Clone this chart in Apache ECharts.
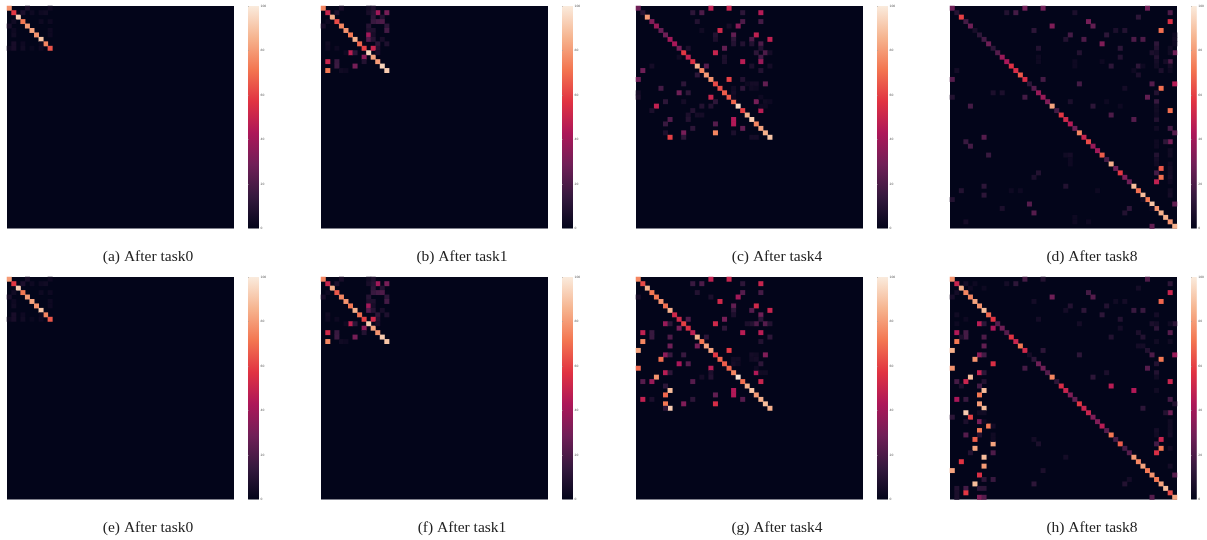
<!DOCTYPE html>
<html><head><meta charset="utf-8">
<style>html,body{margin:0;padding:0;background:#fff}#c{width:1207px;height:540px}</style>
<script src="https://cdn.jsdelivr.net/npm/echarts@6/dist/echarts.min.js"></script>
</head><body><div id="c"></div>
<script>
const captions=['(a) After task0','(b) After task1','(c) After task4','(d) After task8','(e) After task0','(f) After task1','(g) After task4','(h) After task8'];
const colorTicks=[0,20,40,60,80,100];
const diagA=[78,58,92,72,80,82,78,90,75,64];
const offA=[[4,0,6],[9,0,3],[3,1,7],[5,1,3],[7,1,3],[8,1,4],[1,3,4],[7,3,3],[9,3,3],[0,4,6],[1,5,3],[9,5,3],[1,6,4],[9,6,3],[1,8,6],[3,8,3],[7,8,2],[0,9,3],[1,9,6],[3,9,4],[5,9,2],[7,9,3]];
const diagE=[80,58,92,72,80,82,78,90,75,65];
const offE=[[4,0,6],[9,0,3],[3,1,7],[5,1,3],[7,1,3],[8,1,4],[1,3,4],[7,3,3],[9,3,3],[0,4,6],[1,5,3],[9,5,3],[1,6,4],[9,6,3],[1,8,6],[3,8,3],[7,8,2],[0,9,3],[1,9,6],[3,9,4],[5,9,2],[7,9,3]];
const diagB=[75,50,85,62,75,78,72,85,68,60,94,82,80,94,92];
const offB=[[12,1,40],[14,1,30],[11,2,12],[13,2,9],[12,3,18],[13,3,20],[11,3,15],[14,4,12],[14,5,18],[10,4,10],[10,5,8],[10,6,40],[10,7,22],[11,5,8],[11,6,6],[11,7,10],[12,8,12],[12,9,8],[13,7,6],[14,8,8],[11,9,50],[6,10,47],[7,10,12],[9,11,35],[1,12,50],[3,12,15],[3,13,16],[7,13,30],[9,12,9],[1,14,72],[4,14,4],[5,14,3],[0,4,6],[1,3,3],[3,1,7],[4,0,6],[11,0,8],[10,0,4],[11,1,10],[10,1,6],[1,8,4],[1,9,3],[3,9,3],[5,10,3],[12,10,6]];
const diagF=[75,50,85,65,75,78,72,85,70,60,92,82,78,92,90];
const offF=[[12,1,40],[14,1,30],[11,2,12],[13,2,9],[12,3,18],[13,3,20],[11,3,15],[14,4,12],[14,5,18],[10,4,10],[10,5,8],[10,6,40],[10,7,22],[11,5,8],[11,6,6],[11,7,10],[12,8,12],[12,9,8],[13,7,6],[14,8,8],[11,9,52],[6,10,48],[7,10,12],[9,11,35],[1,12,52],[3,12,15],[3,13,16],[7,13,30],[9,12,9],[1,14,75],[4,14,4],[5,14,3],[0,4,6],[1,3,3],[3,1,7],[4,0,6],[11,0,8],[10,0,4],[11,1,10],[10,1,6],[1,8,4],[1,9,3],[3,9,3],[5,10,3],[12,10,6]];
const diagC=[28,10,80,32,38,26,28,40,42,30,58,48,55,85,75,80,78,62,63,66,65,68,95,60,85,92,75,82,85,90];
const offC=[[16,0,47],[20,0,50],[12,1,12],[14,1,20],[27,1,45],[23,1,12],[13,3,9],[23,3,20],[27,3,18],[22,4,35],[20,4,5],[18,5,52],[14,5,4],[21,6,25],[21,7,12],[26,6,48],[25,7,20],[29,7,48],[21,8,9],[23,8,9],[27,8,20],[25,8,9],[27,9,9],[19,9,25],[11,9,7],[17,7,7],[17,6,9],[17,10,50],[28,10,20],[26,10,12],[29,10,5],[27,11,18],[19,11,7],[23,12,46],[27,12,38],[19,12,7],[9,11,4],[25,13,7],[29,13,5],[15,13,22],[3,13,5],[1,14,28],[27,14,9],[13,15,12],[0,16,28],[20,16,60],[23,16,9],[10,17,12],[28,17,25],[25,17,5],[26,17,5],[5,18,18],[23,18,12],[9,19,28],[11,19,12],[0,19,5],[0,20,7],[16,20,50],[17,21,12],[26,21,30],[6,21,12],[10,21,5],[4,22,48],[14,22,9],[16,22,9],[3,23,7],[27,23,46],[12,23,9],[11,24,7],[13,24,5],[14,24,5],[11,25,9],[7,25,22],[6,26,15],[17,26,22],[21,25,44],[21,26,44],[23,27,25],[12,27,12],[6,28,7],[10,28,30],[17,28,75],[21,28,7],[7,29,60],[10,29,12],[25,29,5],[26,29,5],[24,17,3],[25,18,4],[26,18,3],[21,18,4],[21,19,5],[21,20,3],[27,20,3],[28,21,4],[29,21,3],[28,22,3],[27,22,3]];
const diagG=[75,62,85,72,72,78,70,85,52,52,60,55,47,85,72,82,82,58,68,66,68,75,98,70,85,90,80,85,88,85];
const offG=[[16,0,48],[20,0,50],[12,1,15],[14,1,20],[27,1,50],[23,1,12],[13,3,9],[23,3,22],[27,3,18],[0,4,6],[22,4,40],[16,4,7],[18,5,52],[21,6,25],[21,7,12],[26,6,52],[25,7,22],[29,7,50],[27,8,28],[27,9,12],[19,9,30],[11,9,20],[21,8,7],[6,10,38],[7,10,12],[17,10,52],[26,10,20],[28,10,22],[29,10,9],[25,10,9],[24,10,7],[9,11,30],[19,11,12],[1,12,48],[3,12,15],[3,13,15],[7,13,20],[23,12,46],[27,12,46],[29,13,12],[15,13,12],[27,14,9],[1,14,75],[7,15,28],[13,15,30],[0,16,82],[20,16,58],[6,17,35],[7,17,15],[10,17,15],[28,17,32],[5,18,70],[9,19,42],[11,19,22],[27,19,12],[0,20,68],[16,20,46],[6,21,46],[7,21,12],[16,21,7],[26,21,44],[4,22,78],[14,22,5],[16,22,9],[1,23,22],[3,23,38],[12,23,22],[27,23,50],[6,24,12],[7,25,88],[21,25,44],[21,26,44],[6,26,68],[17,26,25],[1,27,48],[3,27,7],[12,27,12],[23,27,22],[6,28,72],[10,28,32],[17,28,54],[7,29,92],[6,29,12],[25,17,5],[26,17,4],[21,18,4],[22,18,4],[25,18,4],[26,18,5],[21,19,5],[22,19,3],[26,20,3],[27,21,4],[28,21,4]];
const diagD=[28,10,60,18,28,6,12,18,28,12,22,38,42,56,54,65,54,12,22,38,38,32,82,18,58,52,45,28,75,50,62,38,40,66,18,85,28,58,32,28,88,70,88,72,90,78,85,85,78,85];
const offD=[[16,0,28],[20,0,28],[43,0,28],[12,1,9],[14,1,18],[27,1,7],[48,1,20],[41,2,12],[30,3,30],[48,3,55],[22,4,32],[31,4,25],[46,5,70],[18,5,12],[36,5,7],[38,5,9],[26,6,18],[34,6,12],[25,7,9],[29,7,20],[40,7,20],[42,7,20],[33,8,32],[45,8,12],[19,9,9],[37,9,12],[45,9,9],[28,10,9],[44,10,7],[49,10,28],[37,11,9],[45,11,9],[48,12,20],[35,13,12],[41,13,12],[46,14,7],[1,14,5],[41,15,7],[0,16,22],[20,16,18],[28,17,18],[44,17,22],[49,17,45],[46,18,70],[38,18,5],[9,19,7],[11,19,7],[45,19,9],[0,20,9],[16,20,18],[43,20,25],[45,21,15],[26,21,7],[4,22,18],[31,22,12],[48,23,70],[35,24,20],[40,25,22],[45,25,9],[48,27,18],[49,28,22],[7,29,22],[3,30,15],[48,30,30],[47,30,12],[4,31,18],[8,33,15],[45,33,9],[46,36,65],[45,37,18],[46,38,70],[18,38,7],[19,37,9],[45,39,48],[25,40,9],[7,40,12],[2,41,9],[7,42,12],[0,43,9],[49,44,25],[17,44,22],[11,45,7],[18,46,22],[39,45,12],[38,46,9],[3,48,5],[44,49,25],[45,10,5],[45,12,5],[45,13,4],[48,9,4],[48,10,4],[48,13,5],[48,14,3],[45,22,4],[45,23,4],[45,24,3],[45,27,4],[45,30,3],[45,31,3],[45,34,5],[45,35,4],[48,32,4],[48,33,4],[48,35,3],[48,36,4],[48,37,4],[48,38,5],[48,39,3],[48,41,4],[48,42,5],[49,6,3],[49,7,4],[49,8,3],[47,12,5],[33,12,3],[19,11,3],[19,12,3],[27,12,3],[27,13,3],[42,13,3],[40,14,3],[34,21,3],[37,22,3],[25,33,4],[26,33,5],[26,34,3],[26,35,3],[32,41,3],[13,41,3],[15,41,3],[42,43,3],[44,45,3],[30,48,3],[27,47,3],[27,48,3]];
const diagH=[78,50,85,75,75,82,78,88,68,57,22,28,22,57,50,72,52,5,12,28,28,22,75,12,54,50,32,25,58,50,50,32,32,46,22,72,18,66,18,22,80,75,82,72,78,72,82,88,62,82];
const offH=[[16,0,18],[20,0,9],[43,0,20],[12,1,5],[14,1,12],[48,1,12],[41,2,5],[30,3,18],[48,3,50],[22,4,28],[31,4,22],[46,5,68],[18,5,5],[36,5,4],[38,5,5],[26,6,9],[34,6,9],[25,7,5],[29,7,12],[40,7,15],[42,7,15],[33,8,12],[45,8,5],[19,9,5],[37,9,9],[28,10,5],[44,10,7],[49,10,12],[37,11,5],[45,11,12],[48,12,22],[41,12,7],[35,13,9],[42,13,9],[41,15,5],[42,15,5],[20,16,12],[43,16,9],[28,17,12],[44,17,20],[49,17,38],[46,18,72],[45,19,9],[16,20,18],[43,20,22],[45,21,9],[34,21,7],[31,22,12],[48,23,50],[35,24,46],[40,25,44],[48,27,18],[49,28,9],[42,29,12],[48,30,28],[47,30,9],[46,36,50],[45,37,18],[46,38,72],[45,39,55],[18,36,5],[19,37,7],[25,40,5],[6,10,46],[7,10,12],[9,11,42],[1,12,44],[3,12,18],[3,13,18],[2,13,7],[7,13,20],[1,14,72],[7,15,25],[0,16,85],[6,17,35],[7,17,18],[5,18,78],[9,19,55],[0,20,78],[6,21,48],[7,21,12],[4,22,88],[1,23,18],[3,23,50],[7,23,9],[6,24,18],[2,24,7],[7,25,88],[6,26,72],[1,27,42],[3,27,15],[6,28,80],[7,29,88],[3,30,92],[4,31,60],[0,31,12],[6,32,30],[3,32,7],[8,33,72],[6,34,72],[3,35,22],[6,35,9],[5,36,66],[9,37,82],[5,38,82],[4,39,9],[9,39,20],[7,40,88],[2,41,57],[7,42,80],[0,43,82],[20,43,7],[6,44,55],[49,44,22],[7,45,12],[9,45,15],[39,45,5],[5,46,88],[18,46,12],[38,46,9],[1,47,9],[3,47,18],[6,47,12],[7,47,12],[3,48,58],[1,48,7],[6,49,32],[7,49,22],[1,49,7],[44,49,22],[1,8,4],[3,9,3],[1,10,3],[0,4,6],[3,1,5],[4,2,3],[5,1,3],[7,2,3],[1,3,5],[45,10,5],[45,14,4],[48,10,4],[48,14,4],[45,22,4],[45,25,4],[45,34,5],[45,35,4],[48,32,4],[48,33,4],[48,34,4],[48,35,5],[48,38,4],[48,42,5],[7,30,4],[7,32,3],[6,30,4],[9,33,5],[9,35,4],[9,36,4]];

const panels=[[diagA,offA],[diagB,offB],[diagC,offC],[diagD,offD],[diagE,offE],[diagF,offF],[diagG,offG],[diagH,offH]];
const cellIds=Array.from({length:50},(_,i)=>String(i));
const rocket=['#03051a','#35193e','#701f57','#ad1759','#e13342','#f37651','#f6b48f','#faebdd'];
const lefts=[7,321,636,950],tops=[6,277],capCx=[148,462,777,1092],capY=[257,528];
const W=227,H=222.5,barDx=241,barW=11;
const grid=[],xAxis=[],yAxis=[],series=[],title=[];
const barFill=()=>new echarts.graphic.LinearGradient(0,1,0,0,rocket.map((c,i)=>({offset:i/(rocket.length-1),color:c})));
panels.forEach((p,k)=>{
  const L=lefts[k%4],T=tops[k<4?0:1];
  grid.push({left:L,top:T,width:W,height:H,show:true,backgroundColor:'#03051a',borderWidth:0});
  xAxis.push({type:'category',gridIndex:k,data:cellIds,show:false});
  yAxis.push({type:'category',gridIndex:k,data:cellIds,inverse:true,show:false});
  const cells=[];
  p[0].forEach((v,i)=>cells.push([i,i,v]));
  p[1].forEach(c=>cells.push(c));
  series.push({type:'heatmap',xAxisIndex:k,yAxisIndex:k,data:cells,progressive:0,animation:false,silent:true,itemStyle:{borderWidth:0}});
  title.push({text:captions[k],left:capCx[k%4],top:capY[k<4?0:1],padding:0,textAlign:'center',textVerticalAlign:'middle',textStyle:{fontFamily:'Liberation Serif',fontSize:15.5,fontWeight:'normal',color:'#222'}});
});
panels.forEach((p,k)=>{
  const L=lefts[k%4],T=tops[k<4?0:1],g=8+k;
  grid.push({left:L+barDx,top:T,width:barW,height:H,show:true,backgroundColor:barFill(),borderWidth:0});
  xAxis.push({type:'value',gridIndex:g,show:false,min:0,max:1});
  yAxis.push({type:'value',gridIndex:g,position:'right',min:colorTicks[0],max:colorTicks[colorTicks.length-1],interval:20,
    axisLine:{show:false},splitLine:{show:false},axisTick:{show:true,length:1,lineStyle:{color:'#999',width:0.5}},
    axisLabel:{show:true,fontSize:3,margin:1.5,color:'#555',fontFamily:'DejaVu Sans'}});
});
const visualMap={type:'continuous',show:false,seriesIndex:[0,1,2,3,4,5,6,7],min:0,max:100,inRange:{color:rocket}};
const chart=echarts.init(document.getElementById('c'),null,{renderer:'canvas'});
chart.setOption({animation:false,backgroundColor:'#fff',title,grid,xAxis,yAxis,visualMap,series});
</script></body></html>
